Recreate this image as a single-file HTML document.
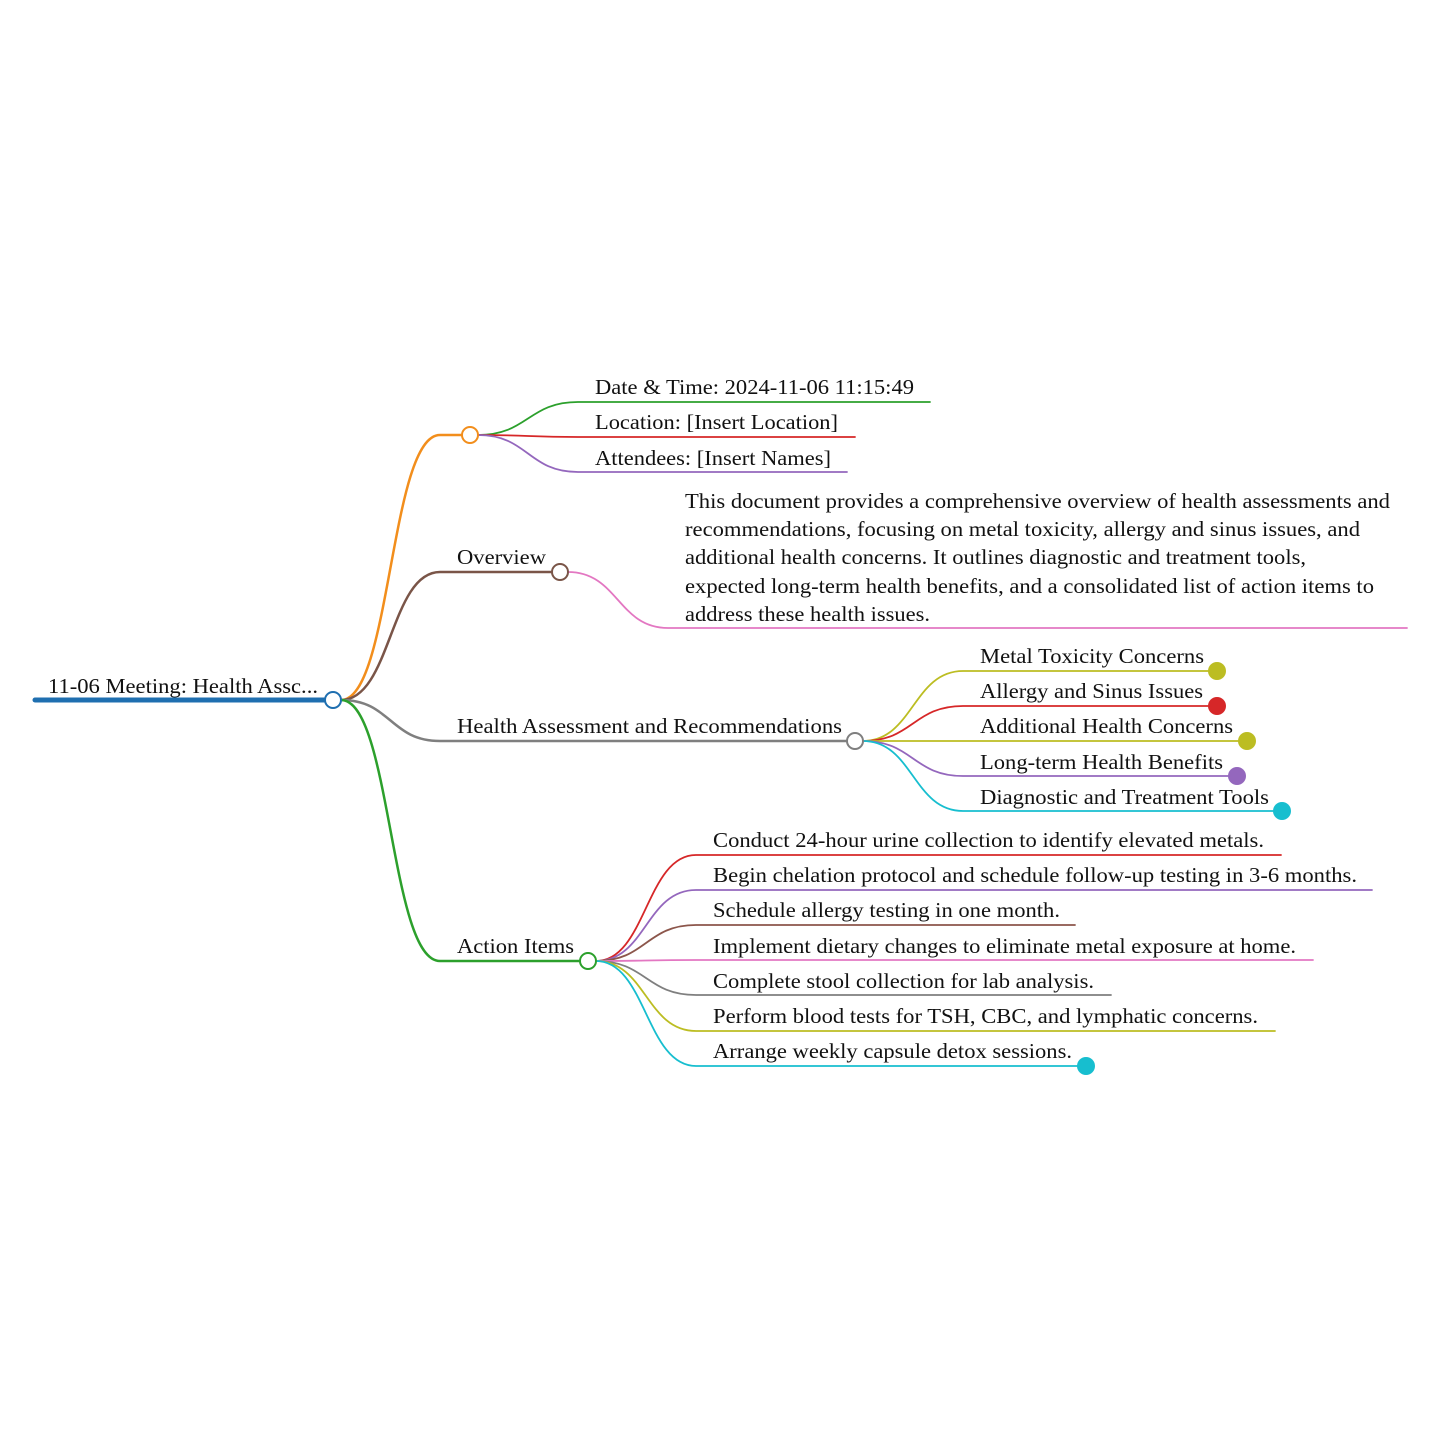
<!DOCTYPE html>
<html><head><meta charset="utf-8"><style>
html,body{margin:0;padding:0;background:#fff;}
svg{display:block}
text{font-family:"Liberation Serif",serif;font-size:21px;fill:#111;}
</style></head><body>
<svg width="1440" height="1440" viewBox="0 0 1440 1440" xmlns="http://www.w3.org/2000/svg">
<g fill="none" stroke-linecap="round">
<line x1="35" y1="700" x2="325" y2="700" stroke="#1f6fb0" stroke-width="5"/>
<path d="M341,700 C391,700 390,435 440,435 L462,435" stroke="#f28e1c" stroke-width="2.5"/>
<path d="M341,700 C391,700 390,572 440,572 L552,572" stroke="#7a5548" stroke-width="2.5"/>
<path d="M341,700 C391,700 390,741 440,741 L847,741" stroke="#7f7f7f" stroke-width="2.5"/>
<path d="M341,700 C391,700 390,961 440,961 L580,961" stroke="#2ca02c" stroke-width="2.5"/>
<path d="M478,435 C528,435 528,402 578,402 L930,402" stroke="#2ca02c" stroke-width="1.8"/>
<path d="M478,435 C528,435 528,437 578,437 L855,437" stroke="#d62728" stroke-width="1.8"/>
<path d="M478,435 C528,435 528,472 578,472 L847,472" stroke="#9467bd" stroke-width="1.8"/>
<path d="M568,572 C618,572 618,628 668,628 L1407,628" stroke="#e377c2" stroke-width="1.8"/>
<path d="M863,741 C913,741 913,671 963,671 L1208,671" stroke="#bcbd22" stroke-width="1.8"/>
<path d="M863,741 C913,741 913,706 963,706 L1208,706" stroke="#d62728" stroke-width="1.8"/>
<path d="M863,741 C913,741 913,741 963,741 L1238,741" stroke="#bcbd22" stroke-width="1.8"/>
<path d="M863,741 C913,741 913,776 963,776 L1228,776" stroke="#9467bd" stroke-width="1.8"/>
<path d="M863,741 C913,741 913,811 963,811 L1273,811" stroke="#17becf" stroke-width="1.8"/>
<path d="M596,961 C646,961 646,855 696,855 L1281,855" stroke="#d62728" stroke-width="1.8"/>
<path d="M596,961 C646,961 646,890 696,890 L1372,890" stroke="#9467bd" stroke-width="1.8"/>
<path d="M596,961 C646,961 646,925 696,925 L1075,925" stroke="#8c564b" stroke-width="1.8"/>
<path d="M596,961 C646,961 646,960 696,960 L1313,960" stroke="#e377c2" stroke-width="1.8"/>
<path d="M596,961 C646,961 646,995 696,995 L1111,995" stroke="#7f7f7f" stroke-width="1.8"/>
<path d="M596,961 C646,961 646,1031 696,1031 L1275,1031" stroke="#bcbd22" stroke-width="1.8"/>
<path d="M596,961 C646,961 646,1066 696,1066 L1078,1066" stroke="#17becf" stroke-width="1.8"/>
</g>
<circle cx="333" cy="700" r="8" fill="#fff" stroke="#1f6fb0" stroke-width="2"/>
<circle cx="470" cy="435" r="8" fill="#fff" stroke="#f28e1c" stroke-width="2"/>
<circle cx="560" cy="572" r="8" fill="#fff" stroke="#7a5548" stroke-width="2"/>
<circle cx="855" cy="741" r="8" fill="#fff" stroke="#7f7f7f" stroke-width="2"/>
<circle cx="588" cy="961" r="8" fill="#fff" stroke="#2ca02c" stroke-width="2"/>
<circle cx="1217" cy="671" r="9" fill="#bcbd22"/>
<circle cx="1217" cy="706" r="9" fill="#d62728"/>
<circle cx="1247" cy="741" r="9" fill="#bcbd22"/>
<circle cx="1237" cy="776" r="9" fill="#9467bd"/>
<circle cx="1282" cy="811" r="9" fill="#17becf"/>
<circle cx="1086" cy="1066" r="9" fill="#17becf"/>
<g lengthAdjust="spacingAndGlyphs">
<text x="48" y="693" textLength="270" lengthAdjust="spacingAndGlyphs">11-06 Meeting: Health Assc...</text>
<text x="457" y="564" textLength="89" lengthAdjust="spacingAndGlyphs">Overview</text>
<text x="457" y="733" textLength="385" lengthAdjust="spacingAndGlyphs">Health Assessment and Recommendations</text>
<text x="457" y="953" textLength="117" lengthAdjust="spacingAndGlyphs">Action Items</text>
<text x="595" y="394" textLength="319" lengthAdjust="spacingAndGlyphs">Date &amp; Time: 2024-11-06 11:15:49</text>
<text x="595" y="429" textLength="243" lengthAdjust="spacingAndGlyphs">Location: [Insert Location]</text>
<text x="595" y="465" textLength="236" lengthAdjust="spacingAndGlyphs">Attendees: [Insert Names]</text>
<text x="685" y="508" textLength="705" lengthAdjust="spacingAndGlyphs">This document provides a comprehensive overview of health assessments and</text>
<text x="685" y="536" textLength="675" lengthAdjust="spacingAndGlyphs">recommendations, focusing on metal toxicity, allergy and sinus issues, and</text>
<text x="685" y="564" textLength="621" lengthAdjust="spacingAndGlyphs">additional health concerns. It outlines diagnostic and treatment tools,</text>
<text x="685" y="593" textLength="689" lengthAdjust="spacingAndGlyphs">expected long-term health benefits, and a consolidated list of action items to</text>
<text x="685" y="621" textLength="245" lengthAdjust="spacingAndGlyphs">address these health issues.</text>
<text x="980" y="663" textLength="224" lengthAdjust="spacingAndGlyphs">Metal Toxicity Concerns</text>
<text x="980" y="698" textLength="223" lengthAdjust="spacingAndGlyphs">Allergy and Sinus Issues</text>
<text x="980" y="733" textLength="253" lengthAdjust="spacingAndGlyphs">Additional Health Concerns</text>
<text x="980" y="769" textLength="243" lengthAdjust="spacingAndGlyphs">Long-term Health Benefits</text>
<text x="980" y="804" textLength="289" lengthAdjust="spacingAndGlyphs">Diagnostic and Treatment Tools</text>
<text x="713" y="847" textLength="551" lengthAdjust="spacingAndGlyphs">Conduct 24-hour urine collection to identify elevated metals.</text>
<text x="713" y="882" textLength="644" lengthAdjust="spacingAndGlyphs">Begin chelation protocol and schedule follow-up testing in 3-6 months.</text>
<text x="713" y="917" textLength="347" lengthAdjust="spacingAndGlyphs">Schedule allergy testing in one month.</text>
<text x="713" y="953" textLength="583" lengthAdjust="spacingAndGlyphs">Implement dietary changes to eliminate metal exposure at home.</text>
<text x="713" y="988" textLength="381" lengthAdjust="spacingAndGlyphs">Complete stool collection for lab analysis.</text>
<text x="713" y="1023" textLength="545" lengthAdjust="spacingAndGlyphs">Perform blood tests for TSH, CBC, and lymphatic concerns.</text>
<text x="713" y="1058" textLength="359" lengthAdjust="spacingAndGlyphs">Arrange weekly capsule detox sessions.</text>
</g>
</svg>
</body></html>
